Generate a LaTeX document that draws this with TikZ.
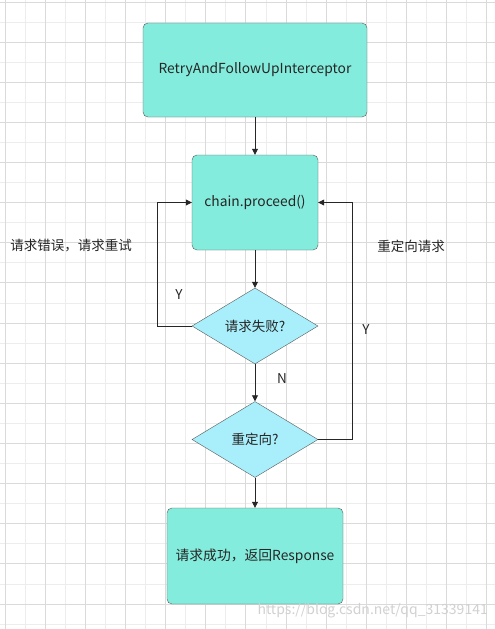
\documentclass[tikz,border=0pt]{standalone}
\usepackage{fontspec}
\setmainfont{Noto Sans CJK SC}
\usetikzlibrary{shapes.geometric,arrows.meta}
\definecolor{boxfill}{HTML}{84ECDC}
\definecolor{diafill}{HTML}{A8EFFB}
\definecolor{edgegray}{HTML}{5A5A5A}
\definecolor{gridmajor}{HTML}{DADADA}
\definecolor{gridminor}{HTML}{EDEDED}
\tikzset{
    procbox/.style = {draw = edgegray, fill = boxfill, rounded corners = 5pt,
        inner sep = 0pt, text = black!85, font = \fontsize{13.8}{16}\selectfont},
    decision/.style = {diamond, draw = edgegray, fill = diafill, inner sep = 0pt,
        minimum width = 126pt, minimum height = 76pt, text = black!85,
        font = \fontsize{13.5}{16}\selectfont},
    flow/.style = {-{Triangle[length = 6pt, width = 6pt]}, black!85, thick},
    remark/.style = {text = black!85, font = \fontsize{13.5}{16}\selectfont}
}
\begin{document}
\begin{tikzpicture}[x = 1pt, y = -1pt]
    \useasboundingbox (0, 0) rectangle (495, 629);
    \fill [white] (0, 0) rectangle (495, 629);
    % grid
    \foreach \k in {0,...,11}
        \draw [gridminor, line width = 1pt] (25.08 + 40.16*\k, 0) -- ++(0, 629);
    \foreach \k in {0,...,15}
        \draw [gridminor, line width = 1pt] (0, 22.07 + 40.14*\k) -- ++(495, 0);
    \foreach \k in {0,...,12}
        \draw [gridmajor, line width = 1pt] (5 + 40.16*\k, 0) -- ++(0, 629);
    \foreach \k in {0,...,15}
        \draw [gridmajor, line width = 1pt] (0, 2 + 40.14*\k) -- ++(495, 0);

    \node [procbox, minimum width = 224pt, minimum height = 94pt] (interceptor) at (255, 70) {RetryAndFollowUpInterceptor};
    \node [procbox, minimum width = 126pt, minimum height = 95pt] (proceed) at (255, 202.5) {chain.proceed()};
    \node [decision] (failed) at (255, 326) {请求失败?};
    \node [decision] (redirect) at (255, 439.5) {重定向?};
    \node [procbox, minimum width = 176pt, minimum height = 96pt] (response) at (255, 556) {请求成功，返回Response};

    \coordinate (retryturn) at (157, 326);
    \coordinate (redirectturn) at (352, 439.5);

    \draw [flow] (interceptor) -- (proceed);
    \draw [flow] (proceed) -- (failed);
    \draw [flow] (failed) -- (redirect);
    \draw [flow] (redirect) -- (response);
    \draw [flow] (failed.west) -- (retryturn) |- (proceed.west);
    \draw [flow] (redirect.east) -- (redirectturn) |- (proceed.east);

    \node [remark] (retrynote) at (71, 246) {请求错误，请求重试};
    \node [remark] (redirectnote) at (411, 246) {重定向请求};
    \node [remark] (retryyes) at (179, 295) {Y};
    \node [remark] (redirectyes) at (366, 330) {Y};
    \node [remark] (failedno) at (282, 379) {N};
    \node [anchor = east, inner sep = 0pt, text = black!18, font = \fontsize{14}{16}\selectfont] (mark) at (488, 611) {https://blog.csdn.net/qq\_31339141};
\end{tikzpicture}
\end{document}
